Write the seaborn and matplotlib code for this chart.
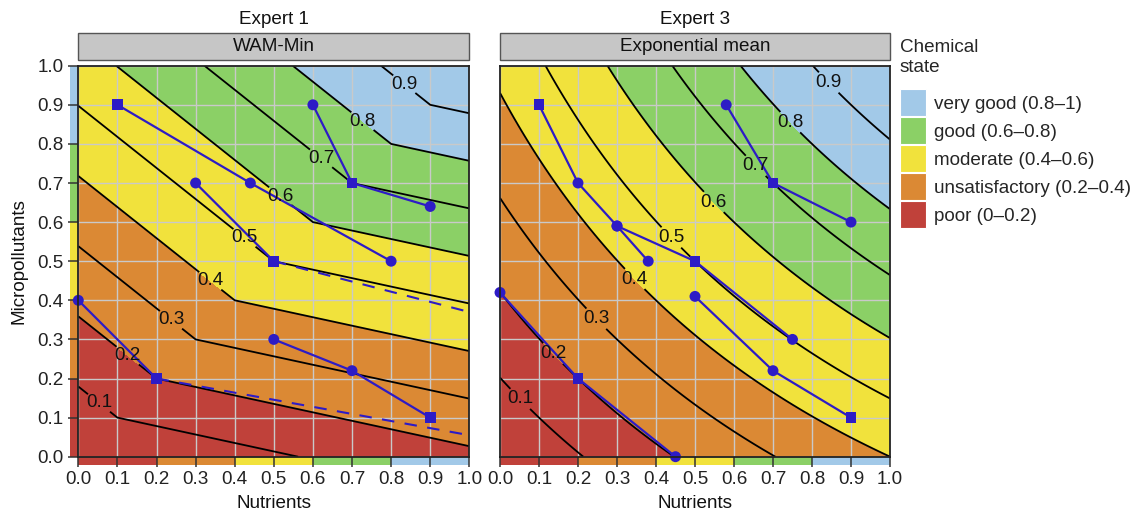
import numpy as np
import pandas as pd
import matplotlib
matplotlib.use("Agg")
import matplotlib.pyplot as plt
from matplotlib.patches import Patch, Rectangle
import seaborn as sns

# ---------------- data ----------------
class_labels = ["very good (0.8–1)", "good (0.6–0.8)", "moderate (0.4–0.6)",
                "unsatisfactory (0.2–0.4)", "poor (0–0.2)"]
class_colors = ["#A2C9E8", "#8BD066", "#F1E23C", "#DB8934", "#C0413A"]   # top -> bottom
class_breaks = [0.0, 0.2, 0.4, 0.6, 0.8, 1.0]
contour_levels = [0.1, 0.2, 0.3, 0.4, 0.5, 0.6, 0.7, 0.8, 0.9]
tick_values = [0.0, 0.1, 0.2, 0.3, 0.4, 0.5, 0.6, 0.7, 0.8, 0.9, 1.0]

panel_experts = ["Expert 1", "Expert 3"]
panel_methods = ["WAM-Min", "Exponential mean"]

# aggregation model parameters
wam_share = 0.735       # weight of weighted arithmetic mean vs. minimum
wam_w_nutr = 0.242
wam_w_micro = 0.758
exp_q = 0.72            # exponential mean exponent (negative p)
exp_w_nutr = 0.4875
exp_w_micro = 0.5125

# trajectories, WAM-Min panel
wam_group = ["A", "A", "A", "B", "B", "C", "C", "C", "D", "D", "D", "E", "E"]
wam_nutr = [0.10, 0.44, 0.80, 0.30, 0.50, 0.60, 0.70, 0.90, 0.50, 0.70, 0.90, 0.00, 0.20]
wam_micro = [0.90, 0.70, 0.50, 0.70, 0.50, 0.90, 0.70, 0.64, 0.30, 0.22, 0.10, 0.40, 0.20]
wam_kind = ["square", "dot", "dot", "dot", "square", "dot", "square", "dot",
            "dot", "dot", "square", "dot", "square"]
wam_dash_group = ["u", "u", "l", "l"]
wam_dash_nutr = [0.50, 1.00, 0.20, 1.00]
wam_dash_micro = [0.50, 0.37, 0.20, 0.055]

# trajectories, Exponential mean panel
exp_group = ["A", "A", "A", "A", "B", "B", "B", "C", "C", "C", "D", "D", "D", "E", "E", "E"]
exp_nutr = [0.10, 0.20, 0.30, 0.38, 0.30, 0.50, 0.75, 0.58, 0.70, 0.90, 0.50, 0.70, 0.90, 0.00, 0.20, 0.45]
exp_micro = [0.90, 0.70, 0.59, 0.50, 0.59, 0.50, 0.30, 0.90, 0.70, 0.60, 0.41, 0.22, 0.10, 0.42, 0.20, 0.00]
exp_kind = ["square", "dot", "dot", "dot", "dot", "square", "dot", "dot", "square", "dot",
            "dot", "dot", "square", "dot", "square", "dot"]

# ---------------- layout / style ----------------
W, H = 1137, 515
BLUE = "#2D1BC6"
FS = 13.6
label_pos_left = [(0.055, 0.14), (0.125, 0.257), (0.237, 0.35), (0.337, 0.449), (0.427, 0.562),
                  (0.516, 0.666), (0.613, 0.753), (0.725, 0.856), (0.83, 0.948)]
label_pos_right = [(0.051, 0.147), (0.136, 0.264), (0.246, 0.352), (0.349, 0.458), (0.446, 0.567),
                   (0.554, 0.657), (0.672, 0.76), (0.751, 0.862), (0.846, 0.96)]

sns.set_theme(style="white")
plt.rcParams["font.family"] = ["Liberation Sans", "DejaVu Sans"]
plt.rcParams["axes.linewidth"] = 1.2

fig = plt.figure(figsize=(W / 100, H / 100), dpi=100)
ax_l = fig.add_axes([78.3 / W, (H - 456.7) / H, 391 / W, 391 / H])
ax_r = fig.add_axes([500 / W, (H - 456.7) / H, 390 / W, 391 / H])

g = np.linspace(0, 1, 501)
X, Y = np.meshgrid(g, g)
Z_wam = wam_share * (wam_w_nutr * X + wam_w_micro * Y) + (1 - wam_share) * np.minimum(X, Y)
Z_exp = -np.log(exp_w_nutr * np.exp(-exp_q * X) + exp_w_micro * np.exp(-exp_q * Y)) / exp_q

fill_colors = class_colors[::-1]
fill_levels = class_breaks[:-1] + [1.0001]

df_wam = pd.DataFrame(dict(group=wam_group, x=wam_nutr, y=wam_micro, kind=wam_kind))
df_exp = pd.DataFrame(dict(group=exp_group, x=exp_nutr, y=exp_micro, kind=exp_kind))
df_dash = pd.DataFrame(dict(group=wam_dash_group, x=wam_dash_nutr, y=wam_dash_micro))

panels = [(ax_l, Z_wam, df_wam, label_pos_left), (ax_r, Z_exp, df_exp, label_pos_right)]
for i, (ax, Z, df, lpos) in enumerate(panels):
    ax.contourf(X, Y, Z, levels=fill_levels, colors=fill_colors, zorder=1)
    cs = ax.contour(X, Y, Z, levels=contour_levels, colors="black", linewidths=1.3, zorder=3)
    texts = ax.clabel(cs, manual=lpos, inline=True, inline_spacing=1, fmt="%.1f", fontsize=FS)
    for t in texts:
        t.set_rotation(0)
        t.set_color("#111111")
    ax.set_xlim(0, 1)
    ax.set_ylim(0, 1)
    ax.set_axisbelow("line")
    ax.grid(True, color="#C9C9C9", linewidth=1.0)
    ax.set_xticks(tick_values)
    ax.set_yticks(tick_values)
    ax.set_xticklabels([f"{v:.1f}" for v in tick_values])
    ax.tick_params(axis="both", which="both", direction="out", length=7, width=1.1,
                   color="#333333", labelsize=FS, labelcolor="#222222", pad=3.5,
                   bottom=True, left=(i == 0))
    if i == 0:
        ax.set_yticklabels([f"{v:.1f}" for v in tick_values])
    else:
        ax.set_yticklabels([])
    for s in ax.spines.values():
        s.set_color("#222222")
        s.set_linewidth(1.3)
        s.set_zorder(6)

    # trajectories
    sns.lineplot(data=df, x="x", y="y", units="group", estimator=None, sort=False,
                 color=BLUE, linewidth=1.6, ax=ax, zorder=4, legend=False)
    sns.scatterplot(data=df, x="x", y="y", style="kind", markers={"dot": "o", "square": "s"},
                    size="kind", sizes={"dot": 62, "square": 62},
                    color=BLUE, edgecolor=BLUE, linewidth=0, ax=ax, zorder=5,
                    legend=False, clip_on=False)
    ax.set_xlabel("Nutrients", fontsize=FS, labelpad=5, color="#111111")
    ax.set_ylabel("Micropollutants" if i == 0 else "", fontsize=FS, labelpad=7, color="#111111")

    # class strip along x axis
    for k in range(5):
        ax.add_patch(Rectangle((class_breaks[k], -0.022), class_breaks[k + 1] - class_breaks[k], 0.022,
                               transform=ax.get_xaxis_transform(), clip_on=False,
                               facecolor=fill_colors[k], edgecolor="none", zorder=0.5))
    # facet strip + title
    ax.add_patch(Rectangle((0, 1.0146), 1, 0.069, transform=ax.transAxes, clip_on=False,
                           facecolor="#C6C6C6", edgecolor="#555555", linewidth=1.0))
    ax.text(0.5, 1.049, panel_methods[i], transform=ax.transAxes, ha="center", va="center",
            fontsize=FS, color="#111111")
    ax.text(0.5, 1.118, panel_experts[i], transform=ax.transAxes, ha="center", va="center",
            fontsize=FS, color="#111111")

# dashed reference lines (left panel)
n_before = len(ax_l.get_lines())
sns.lineplot(data=df_dash, x="x", y="y", units="group", estimator=None, sort=False,
             color=BLUE, linewidth=1.5, ax=ax_l, zorder=4, legend=False)
for ln in ax_l.get_lines()[n_before:]:
    ln.set_dashes([6, 5])
ax_l.set_xlabel("Nutrients", fontsize=FS, labelpad=5, color="#111111")
ax_l.set_ylabel("Micropollutants", fontsize=FS, labelpad=7, color="#111111")

# class strip along y axis (left panel only)
for k in range(5):
    ax_l.add_patch(Rectangle((-0.021, class_breaks[k]), 0.021, class_breaks[k + 1] - class_breaks[k],
                             transform=ax_l.get_yaxis_transform(), clip_on=False,
                             facecolor=fill_colors[k], edgecolor="none", zorder=0.5))

# legend
handles = [Patch(facecolor=c, edgecolor="white", linewidth=0.8) for c in class_colors]
leg = fig.legend(handles, class_labels, title="Chemical\nstate", loc="upper left",
                 bbox_to_anchor=(900 / W, (H - 39) / H), frameon=False, fontsize=FS,
                 title_fontsize=FS, handlelength=1.38, handleheight=1.82, labelspacing=0.053,
                 handletextpad=0.4, borderaxespad=0, borderpad=0, alignment="left")
leg._legend_box.sep = 10

fig.savefig("out.png", dpi=100)
